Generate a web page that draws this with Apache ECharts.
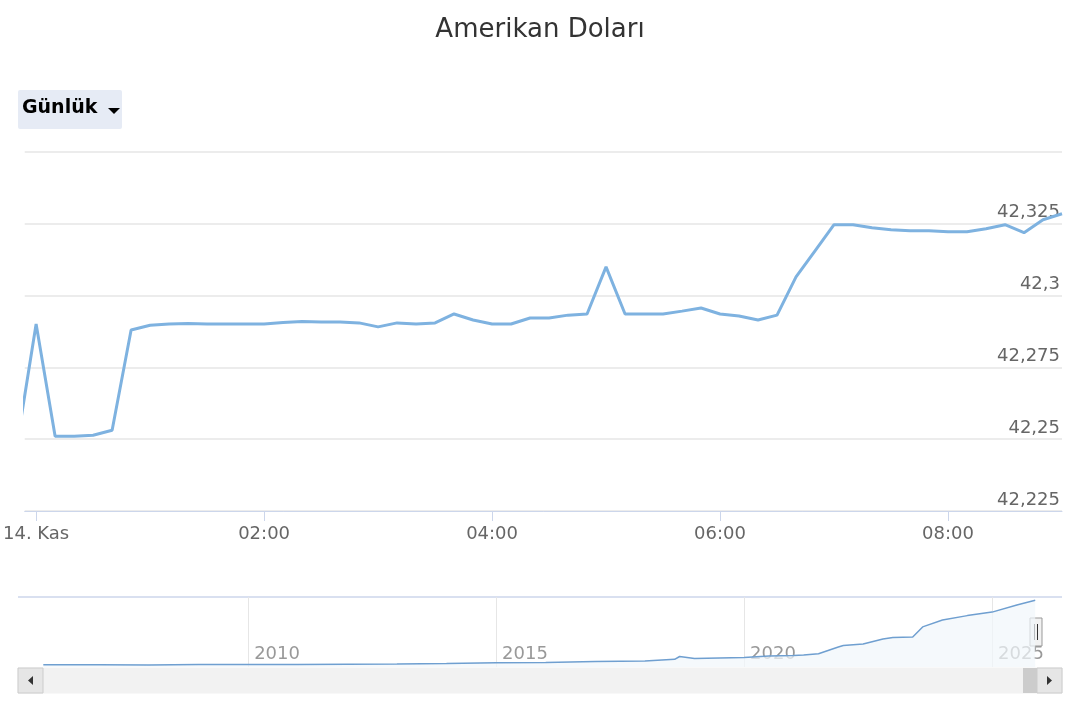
<!DOCTYPE html>
<html>
<head>
    <meta charset="utf-8">
    <title>Amerikan Doları</title>
    <script src="https://cdn.jsdelivr.net/npm/echarts@6/dist/echarts.min.js"></script>
    <style>
        html, body { margin: 0; padding: 0; background: #fff; }
        #main { width: 1080px; height: 720px; }
    </style>
</head>
<body>
<div id="main"></div>
<script>
    // gün içi: 14 Kasım gece yarısından itibaren dakika
    var minutes = [];
    for (var m = -10; m <= 540; m += 10) minutes.push(m);
    var prices = [42.2486, 42.2901, 42.251, 42.251, 42.2514, 42.2531, 42.288, 42.2897, 42.2901, 42.2903,
        42.2901, 42.2901, 42.2901, 42.2901, 42.2906, 42.291, 42.2908, 42.2908, 42.2905, 42.2891,
        42.2905, 42.2901, 42.2905, 42.2936, 42.2915, 42.2901, 42.2901, 42.2922, 42.2922, 42.2932,
        42.2936, 42.31, 42.2936, 42.2936, 42.2936, 42.2946, 42.2957, 42.2936, 42.2929, 42.2915,
        42.2932, 42.3065, 42.3156, 42.3247, 42.3247, 42.3236, 42.3229, 42.3226, 42.3226, 42.3222,
        42.3222, 42.3233, 42.3247, 42.3219, 42.3264, 42.3285];
    var xTicks = [0, 120, 240, 360, 480];
    var xTickLabels = ['14. Kas', '02:00', '04:00', '06:00', '08:00'];

    // gezgin: uzun dönem kur
    var navYears = [2005.87, 2007, 2008, 2009, 2010, 2011, 2012, 2013, 2014, 2015, 2016, 2017, 2018.0, 2018.6,
        2018.7, 2019, 2019.5, 2020, 2020.5, 2021.0, 2021.2, 2021.5, 2021.9, 2022.0, 2022.4, 2022.8,
        2023.0, 2023.4, 2023.6, 2024.0, 2024.5, 2025.0, 2025.5, 2025.87];
    var navValues = [1.4, 1.4, 1.3, 1.5, 1.5, 1.6, 1.8, 1.9, 2.2, 2.6, 2.9, 3.5, 3.8, 4.8,
        6.6, 5.3, 5.7, 5.9, 6.9, 7.3, 7.5, 8.3, 12.6, 13.5, 14.5, 17.6, 18.6, 18.9, 25.2,
        29.5, 32.3, 34.5, 39, 42];
    var navTicks = [2010, 2015, 2020, 2025];

    var chart = echarts.init(document.getElementById('main'));
    var FONT = '"DejaVu Sans", sans-serif';

    chart.setOption({
        animation: false,
        textStyle: { fontFamily: FONT },
        title: {
            text: 'Amerikan Doları', left: 'center', top: 12,
            textStyle: { fontSize: 26, fontWeight: 'normal', color: '#333', fontFamily: FONT }
        },
        graphic: [
            { type: 'rect', left: 18, top: 90, shape: { width: 104, height: 39, r: 2 }, style: { fill: '#e6ebf5' } },
            { type: 'text', left: 22, top: 99, style: { text: 'Günlük', font: 'bold 19px ' + FONT, fill: '#000' } },
            { type: 'polygon', shape: { points: [[108, 108], [120, 108], [114, 114]] }, style: { fill: '#000' } },
            // kaydırma çubuğu
            { type: 'rect', shape: { x: 18, y: 668, width: 1044, height: 25 }, style: { fill: '#f2f2f2', stroke: '#f2f2f2' } },
            { type: 'rect', shape: { x: 18, y: 668, width: 25, height: 25 }, style: { fill: '#e6e6e6', stroke: '#cccccc' } },
            { type: 'rect', shape: { x: 1023, y: 668, width: 15, height: 25 }, style: { fill: '#cccccc' } },
            { type: 'rect', shape: { x: 1037, y: 668, width: 25, height: 25 }, style: { fill: '#e6e6e6', stroke: '#cccccc' } },
            { type: 'polygon', shape: { points: [[33, 676], [33, 685], [28, 680.5]] }, style: { fill: '#333' } },
            { type: 'polygon', shape: { points: [[1047, 676], [1047, 685], [1052, 680.5]] }, style: { fill: '#333' } },
            // gezgin tutamacı
            { type: 'rect', shape: { x: 1030, y: 618, width: 12, height: 28 }, style: { fill: '#f2f2f2', stroke: '#999', lineWidth: 1 } },
            { type: 'line', shape: { x1: 1034.5, y1: 624, x2: 1034.5, y2: 640 }, style: { stroke: '#333' } },
            { type: 'line', shape: { x1: 1037.5, y1: 624, x2: 1037.5, y2: 640 }, style: { stroke: '#333' } }
        ],
        grid: [
            { left: 18, right: 18, top: 152, bottom: 209 },
            { left: 18, right: 18, top: 597, bottom: 53 }
        ],
        xAxis: [{
            gridIndex: 0, type: 'value', min: -6, max: 540,
            axisLine: { lineStyle: { color: '#ccd6eb' } },
            axisTick: { show: true, customValues: xTicks, length: 10, lineStyle: { color: '#ccd6eb' } },
            axisLabel: {
                customValues: xTicks, color: '#666', fontSize: 18, margin: 14,
                formatter: function (v) { return xTickLabels[xTicks.indexOf(v)]; }
            },
            splitLine: { show: false }
        }, {
            gridIndex: 1, type: 'value', min: 2005.36, max: 2026.41,
            axisLine: { show: false },
            axisTick: { show: false, customValues: navTicks },
            axisLabel: {
                customValues: navTicks, inside: true, color: '#999', fontSize: 18,
                align: 'left', padding: [0, 0, 0, 6], margin: 4,
                formatter: function (v) { return String(v); }
            },
            splitLine: { show: true, lineStyle: { color: '#e6e6e6' } }
        }],
        yAxis: [{
            gridIndex: 0, type: 'value', position: 'right', min: 42.225, max: 42.35, interval: 0.025,
            axisLine: { show: false }, axisTick: { show: false },
            axisLabel: {
                inside: true, color: '#666', fontSize: 18, verticalAlign: 'bottom', margin: 2,
                padding: [0, 0, 2, 0],
                formatter: function (v) {
                    if (v >= 42.35) return '';
                    return (+v.toFixed(3)).toString().replace('.', ',');
                }
            },
            splitLine: { lineStyle: { color: '#e6e6e6', width: 1.5 } }
        }, {
            gridIndex: 1, type: 'value', min: 0, max: 44, show: true,
            axisLine: { show: false }, axisTick: { show: false }, axisLabel: { show: false },
            splitLine: { show: false }
        }],
        series: [{
            type: 'line', xAxisIndex: 0, yAxisIndex: 0, symbol: 'none',
            data: minutes.map(function (t, i) { return [t, prices[i]]; }),
            lineStyle: { color: '#7eb2e0', width: 3 }
        }, {
            type: 'line', xAxisIndex: 1, yAxisIndex: 1, symbol: 'none',
            data: navYears.map(function (t, i) { return [t, navValues[i]]; }),
            lineStyle: { color: '#6f9fd0', width: 1.5 },
            areaStyle: { color: '#f1f6fb' }
        }]
    });

    // gezgin üst çizgisi
    chart.setOption({
        graphic: chart.getOption().graphic[0].elements.concat([
            { type: 'line', shape: { x1: 18, y1: 597, x2: 1062, y2: 597 }, style: { stroke: '#ccd6eb', lineWidth: 1.5 } }
        ])
    });
</script>
</body>
</html>
